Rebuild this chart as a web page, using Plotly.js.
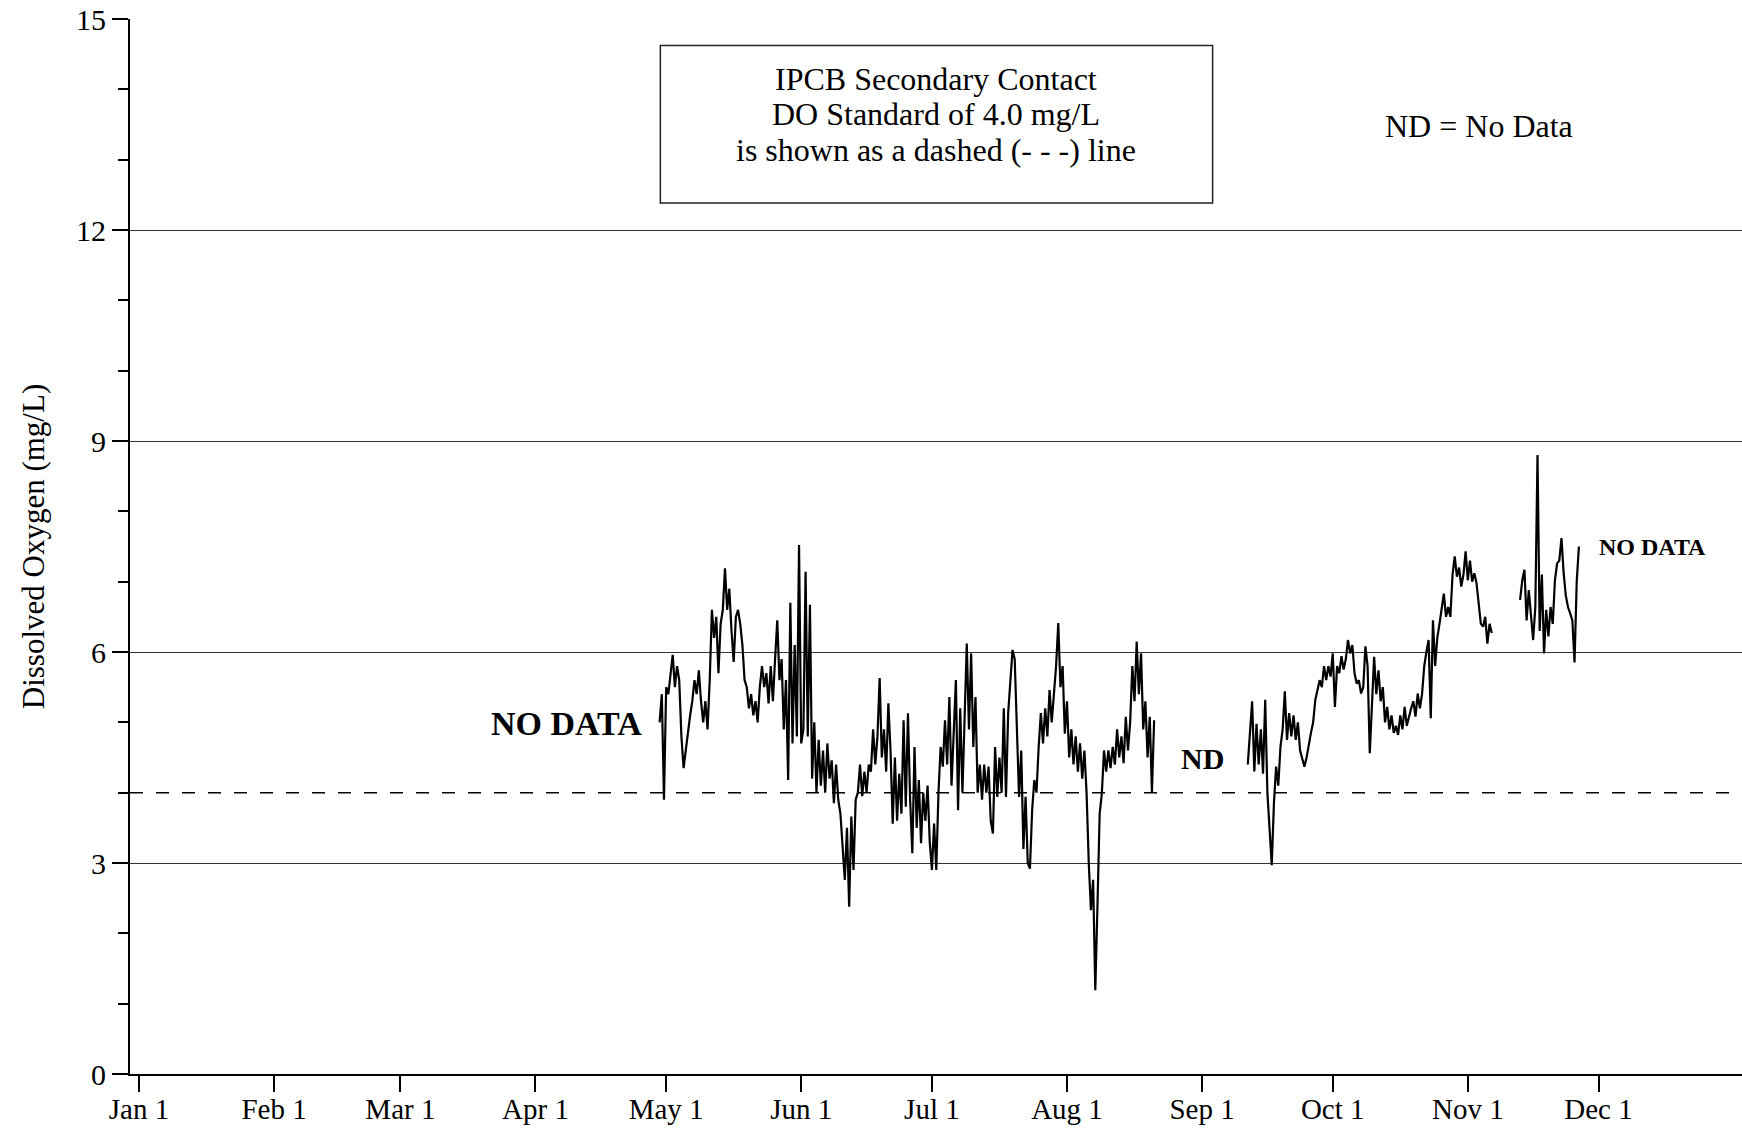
<!DOCTYPE html>
<html>
<head>
<meta charset="utf-8">
<script src="https://cdn.plot.ly/plotly-3.0.1.min.js"></script>
<style>
html,body{margin:0;padding:0;background:#fff;}
#chart{width:1742px;height:1130px;}
</style>
</head>
<body>
<div id="chart"></div>
<script>
// ---- Tick labels (x axis) ----
const tickDates = ['2008-01-01','2008-02-01','2008-03-01','2008-04-01','2008-05-01','2008-06-01',
                   '2008-07-01','2008-08-01','2008-09-01','2008-10-01','2008-11-01','2008-12-01'];
const tickLabels = ['Jan 1','Feb 1','Mar 1','Apr 1','May 1','Jun 1','Jul 1','Aug 1','Sep 1','Oct 1','Nov 1','Dec 1'];

// ---- DO standard ----
const doStandard = 4.0;

// ---- Dissolved oxygen record (mg/L), sampled every 12 hours, three logging periods ----
const sampleStepHours = 12;

const period1Start = '2008-04-29T12:00:00';
const period1Values = [
 5.0, 5.4,  3.9, 5.5,  5.4, 5.7,  5.96, 5.5,  5.8, 5.6,  4.8, 4.35,  4.6, 4.9,  5.1, 5.3,  5.6, 5.4,  5.74, 5.3,
 5.0, 5.3,  4.9, 5.6,  6.6, 6.2,  6.5, 5.7,  6.4, 6.6,  7.19, 6.6,  6.9, 6.3,  5.86, 6.5,  6.6, 6.4,  6.1, 5.6,
 5.5, 5.2,  5.4, 5.1,  5.3, 5.0,  5.5, 5.8,  5.5, 5.7,  5.27, 5.8,  5.3, 5.9,  6.45, 5.6,  5.9, 4.9,  5.6, 4.18,
 6.7, 4.7,  6.1, 4.8,  7.52, 4.7,  4.9, 7.14,  4.8, 6.67,  4.2, 5.0,  4.0, 4.75,  4.1, 4.6,  4.0, 4.7,  4.2, 4.46,
 3.85, 4.4,  3.9, 3.7,  3.2, 2.76,  3.5, 2.38,  3.66, 2.9,  3.9, 4.0,  4.4, 3.95,  4.3, 4.0,  4.4, 4.3,  4.9, 4.4,
 4.8, 5.63,  4.5, 4.9,  4.3, 5.27,  4.6, 3.56,  4.5, 3.6,  4.27, 3.7,  5.03, 3.8,  5.13, 3.9,  3.14, 4.65,  3.5, 4.18,
 3.28, 4.0,  3.6, 4.1,  3.3, 2.9,  3.56, 2.9,  4.0, 4.65,  4.37, 5.03,  4.4, 5.36,  4.1, 5.0,  5.6, 3.75,  5.2, 4.0,
 5.22, 6.12,  4.9, 5.98,  4.65, 5.36,  4.0, 4.4,  3.9, 4.4,  4.0, 4.37,  3.6, 3.42,  4.65, 3.94,  4.5, 4.0,  5.2, 3.94,
 5.13, 5.6,  6.03, 5.9,  4.9, 3.94,  4.6, 3.2,  3.94, 3.0,  2.92, 3.75,  4.18, 4.0,  4.65, 5.13,  4.7, 5.2,  4.8, 5.46,
 5.0, 5.4,  5.8, 6.41,  5.5, 5.8,  4.84, 5.3,  4.5, 4.9,  4.4, 4.8,  4.3, 4.7,  4.2, 4.6,  3.99, 3.0,  2.33, 2.76,
 1.19, 2.4,  3.7, 3.99,  4.6, 4.3,  4.6, 4.35,  4.65, 4.4,  4.9, 4.5,  4.8, 4.42,  5.08, 4.6,  5.0, 5.8,  5.3, 6.15,
 5.4, 5.98,  4.9, 5.3,  4.5, 5.08,  4.01, 5.03
];

const period2Start = '2008-09-11T12:00:00';
const period2Values = [
 4.4, 4.9,  5.3, 4.3,  4.98, 4.4,  4.9, 4.27,  5.32, 4.0,  3.5, 2.97,  3.85, 4.37,  4.1, 4.65,  4.9, 5.44,  4.75, 5.13,
 4.8, 5.1,  4.75, 5.0,  4.6, 4.5,  4.37, 4.5,  4.7, 4.85,  5.0, 5.32,  5.46, 5.6,  5.5, 5.8,  5.6, 5.8,  5.65, 5.98,
 5.22, 5.8,  5.7, 5.94,  5.75, 5.9,  6.17, 5.98,  6.1, 5.7,  5.55, 5.6,  5.41, 5.5,  6.08, 5.8,  4.56, 5.2,  5.93, 5.4,
 5.74, 5.3,  5.5, 5.0,  5.22, 4.9,  5.1, 4.85,  4.95, 4.82,  5.1, 4.9,  5.22, 4.95,  5.1, 5.2,  5.3, 5.08,  5.41, 5.2,
 5.4, 5.8,  6.0, 6.17,  5.06, 6.45,  5.8, 6.2,  6.4, 6.6,  6.83, 6.5,  6.64, 6.5,  7.1, 7.36,  7.07, 7.2,  6.93, 7.1,
 7.43, 7.02,  7.3, 7.0,  7.12, 6.98,  6.64, 6.4,  6.36, 6.5,  6.12, 6.4,  6.27
];

const period3Start = '2008-11-13T00:00:00';
const period3Values = [
 6.74, 7.02,  7.17, 6.45,  6.88, 6.5,  6.17, 6.64,  8.8, 6.3,  7.1, 5.98,  6.6, 6.22,  6.64, 6.4,
 7.02, 7.26,  7.3, 7.62,  7.12, 6.8,  6.64, 6.55,  6.45, 5.85,  7.0, 7.5
];

function sampleTimes(start, n) {
  const t0 = Date.parse(start + 'Z');
  const out = [];
  for (let i = 0; i < n; i++) {
    out.push(new Date(t0 + i * sampleStepHours * 3600000).toISOString().slice(0, 19).replace('T', ' '));
  }
  return out;
}

const lineStyle = {color: '#000', width: 2.2};
const periods = [[period1Start, period1Values], [period2Start, period2Values], [period3Start, period3Values]];
const traces = periods.map(([s, v]) => ({
  type: 'scatter', mode: 'lines',
  x: sampleTimes(s, v.length), y: v,
  line: lineStyle, hoverinfo: 'skip', showlegend: false
}));

const serif = '"Liberation Serif", "Times New Roman", Times, serif';

const layout = {
  width: 1742, height: 1130,
  margin: {l: 130, r: 0, t: 19, b: 56, pad: 0},
  paper_bgcolor: '#fff', plot_bgcolor: '#fff',
  showlegend: false,
  font: {family: serif, color: '#000', size: 30},
  xaxis: {
    type: 'date',
    range: ['2007-12-29 22:25', '2009-01-02 22:30'],
    tickmode: 'array', tickvals: tickDates, ticktext: tickLabels,
    ticks: 'outside', ticklen: 16, tickwidth: 2, tickcolor: '#000',
    ticklabelstandoff: -8,
    showline: true, linecolor: '#000', linewidth: 2,
    showgrid: false, zeroline: false,
    tickfont: {family: serif, size: 29, color: '#000'},
    automargin: false
  },
  yaxis: {
    range: [0, 15],
    tickmode: 'linear', tick0: 0, dtick: 3,
    ticks: 'outside', ticklen: 16, tickwidth: 2, tickcolor: '#000',
    showline: true, linecolor: '#000', linewidth: 2, mirror: true,
    showgrid: true, gridcolor: '#333', gridwidth: 1,
    zeroline: false,
    minor: {dtick: 1, tick0: 0, ticks: 'outside', ticklen: 10, tickwidth: 2, tickcolor: '#000', showgrid: false},
    tickfont: {family: serif, size: 30, color: '#000'},
    title: {text: 'Dissolved Oxygen (mg/L)', font: {family: serif, size: 31, color: '#000'}, standoff: 22},
    automargin: false
  },
  shapes: [
    {type: 'line', xref: 'paper', x0: 0, x1: 1, yref: 'y', y0: doStandard, y1: doStandard,
     line: {color: '#000', width: 1.5, dash: '13px,13px'}},
    {type: 'rect', xref: 'paper', yref: 'paper', x0: 0.329, x1: 0.6716, y0: 0.8256, y1: 0.9749,
     line: {color: '#222', width: 1.5}, fillcolor: 'rgba(0,0,0,0)'}
  ],
  annotations: [
    {xref: 'paper', yref: 'paper', x: 0.5003, y: 0.9431, text: 'IPCB Secondary Contact', showarrow: false,
     xanchor: 'center', yanchor: 'middle', font: {family: serif, size: 32, color: '#000'}},
    {xref: 'paper', yref: 'paper', x: 0.5003, y: 0.9095, text: 'DO Standard of 4.0 mg/L', showarrow: false,
     xanchor: 'center', yanchor: 'middle', font: {family: serif, size: 32, color: '#000'}},
    {xref: 'paper', yref: 'paper', x: 0.5003, y: 0.8758, text: 'is shown as a dashed (- - -) line', showarrow: false,
     xanchor: 'center', yanchor: 'middle', font: {family: serif, size: 32, color: '#000'}},
    {xref: 'paper', yref: 'paper', x: 0.8367, y: 0.899, text: 'ND = No Data', showarrow: false,
     xanchor: 'center', yanchor: 'middle', font: {family: serif, size: 32, color: '#000'}},
    {xref: 'paper', yref: 'paper', x: 0.271, y: 0.3327, text: '<b>NO DATA</b>', showarrow: false,
     xanchor: 'center', yanchor: 'middle', font: {family: serif, size: 34, color: '#000'}},
    {xref: 'paper', yref: 'paper', x: 0.6652, y: 0.2992, text: '<b>ND</b>', showarrow: false,
     xanchor: 'center', yanchor: 'middle', font: {family: serif, size: 30, color: '#000'}},
    {xref: 'paper', yref: 'paper', x: 0.9446, y: 0.4998, text: '<b>NO DATA</b>', showarrow: false,
     xanchor: 'center', yanchor: 'middle', font: {family: serif, size: 24, color: '#000'}}
  ]
};

Plotly.newPlot('chart', traces, layout, {staticPlot: true, displayModeBar: false});
</script>
</body>
</html>
